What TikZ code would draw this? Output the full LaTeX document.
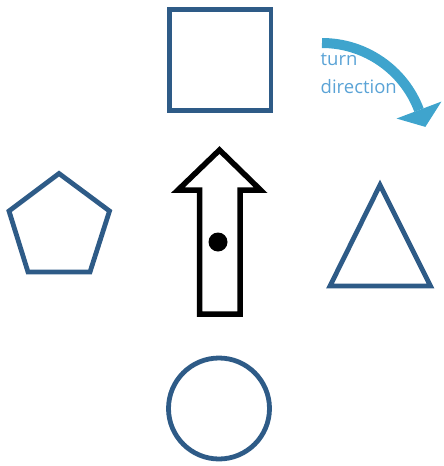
\documentclass[tikz,border=0pt]{standalone}
\usepackage{fontspec}
\newfontfamily\labelfont{Open Sans}
\usetikzlibrary{calc}
\definecolor{shapeblue}{HTML}{2E5B87}
\definecolor{turnblue}{HTML}{3FA4CD}
\definecolor{textblue}{HTML}{5AA3D6}
\begin{document}
\begin{tikzpicture}[x=1pt,y=-1pt,
  shapeline/.style={draw=shapeblue,line width=4.8pt,line join=miter},
  bigarrow/.style={draw=black,line width=5.5pt,line join=miter,fill=white},
  turnshaft/.style={draw=turnblue,line width=10pt},
  turnhead/.style={fill=turnblue},
  turnlabel/.style={text=textblue,font=\labelfont\fontsize{18.5}{28}\selectfont,inner sep=0pt,align=left}]
\useasboundingbox (0,0) rectangle (444,466);
% square
\draw[shapeline] (169.5,9.5) rectangle (271,110.5);
% circle
\draw[shapeline] (219,408.5) circle (50.5);
% pentagon
\draw[shapeline] (59,173.5) -- (109.5,211) -- (90,272) -- (28,272) -- (9,211) -- cycle;
% triangle
\draw[shapeline] (380,185) -- (430.5,286) -- (330,286) -- cycle;
% black arrow
\draw[bigarrow] (219.5,150) -- (260.5,190) -- (240,190) -- (240,314) -- (199.5,314) -- (199.5,190) -- (178,190) -- cycle;
\fill (218,242) circle (9.5);
% turn direction
\coordinate (tc) at (322,146.7);
\coordinate (ts) at (322,43);
\coordinate (te) at ($(tc)+(-20.7:103.7)$);
\draw[turnshaft] (ts) arc[start angle=-90,end angle=-20.7,radius=103.7];
\fill[turnhead] ($(te)+(-20.7:24)$) -- ($(te)+(69.3:18)$) -- ($(te)+(159.3:24)$) -- cycle;
\node[turnlabel,anchor=base west] (lbl) at (320.5,93) {turn\\direction};
\end{tikzpicture}
\end{document}
